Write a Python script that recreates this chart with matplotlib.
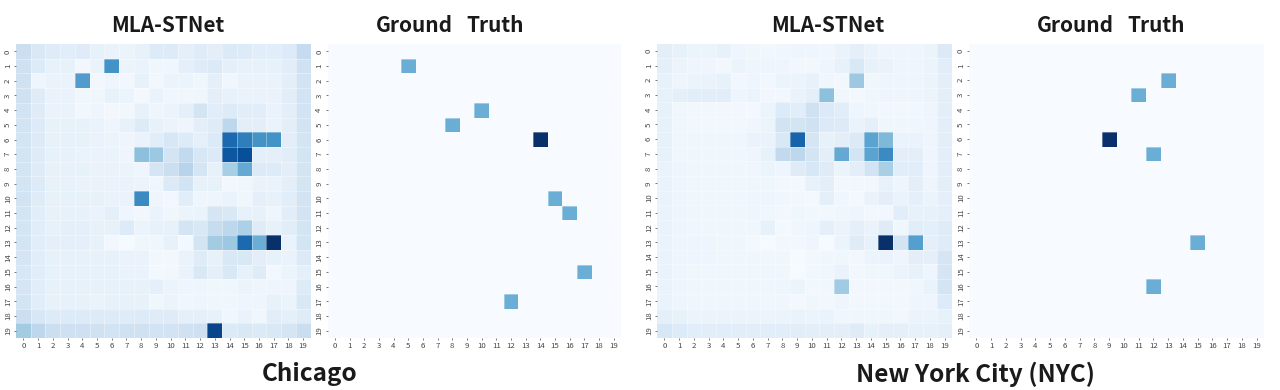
import numpy as np
import matplotlib
matplotlib.use('Agg')
import matplotlib.pyplot as plt
import seaborn as sns

plt.rcParams['font.family'] = ['Noto Sans CJK SC', 'DejaVu Sans']

W, H = 1280, 390

chicago_pred = [
    [22, 15, 12, 11, 12, 8, 7, 6, 8, 13, 13, 9, 12, 10, 14, 13, 11, 11, 13, 25],
    [20, 13, 8, 8, 3, 7, 62, 6, 7, 4, 4, 9, 12, 14, 9, 8, 8, 8, 11, 20],
    [20, 5, 7, 7, 58, 3, 5, 3, 8, 3, 6, 6, 4, 9, 4, 7, 7, 7, 10, 19],
    [20, 12, 7, 7, 4, 4, 8, 6, 2, 7, 4, 4, 4, 10, 8, 7, 7, 7, 11, 19],
    [19, 12, 7, 7, 3, 5, 3, 3, 8, 5, 6, 9, 18, 11, 13, 11, 11, 7, 10, 19],
    [19, 13, 8, 8, 8, 7, 5, 8, 13, 8, 6, 5, 10, 12, 28, 10, 10, 7, 10, 19],
    [18, 13, 8, 8, 8, 7, 6, 5, 7, 11, 16, 13, 9, 14, 78, 70, 62, 62, 10, 18],
    [18, 12, 8, 8, 7, 7, 7, 5, 42, 38, 18, 26, 16, 14, 85, 88, 9, 9, 11, 18],
    [18, 12, 8, 8, 8, 7, 7, 6, 5, 17, 22, 30, 17, 8, 35, 52, 14, 13, 10, 18],
    [18, 13, 8, 8, 7, 7, 7, 7, 6, 4, 14, 19, 8, 8, 3, 4, 7, 7, 10, 18],
    [19, 12, 8, 8, 8, 8, 7, 7, 65, 5, 3, 11, 5, 5, 7, 4, 9, 8, 11, 19],
    [18, 11, 8, 8, 8, 7, 9, 5, 3, 7, 4, 6, 7, 17, 15, 8, 8, 5, 11, 19],
    [18, 11, 8, 9, 9, 8, 8, 13, 6, 8, 8, 18, 15, 24, 28, 33, 12, 8, 11, 18],
    [18, 11, 9, 9, 9, 8, 3, 1, 4, 4, 8, 2, 18, 36, 38, 78, 50, 100, 7, 18],
    [17, 11, 8, 8, 8, 8, 8, 7, 7, 3, 3, 7, 12, 8, 15, 15, 10, 8, 7, 14],
    [16, 11, 8, 8, 8, 8, 8, 7, 7, 2, 3, 7, 15, 9, 15, 8, 12, 3, 6, 9],
    [17, 11, 8, 8, 8, 8, 8, 8, 8, 9, 6, 5, 5, 4, 4, 6, 5, 5, 5, 13],
    [18, 11, 8, 8, 8, 7, 8, 8, 8, 4, 6, 4, 5, 4, 4, 5, 5, 8, 6, 15],
    [22, 16, 13, 13, 13, 13, 13, 12, 13, 12, 12, 9, 9, 8, 4, 7, 4, 11, 9, 12],
    [36, 28, 22, 21, 21, 20, 19, 20, 20, 19, 19, 20, 21, 92, 14, 15, 14, 15, 17, 23],
]

nyc_pred = [
    [10, 8, 6, 6, 8, 5, 4, 3, 4, 5, 5, 4, 7, 9, 7, 5, 5, 5, 6, 14],
    [9, 6, 5, 5, 3, 6, 5, 5, 5, 3, 3, 5, 8, 15, 8, 7, 5, 5, 6, 11],
    [8, 5, 6, 7, 8, 3, 5, 3, 6, 6, 8, 4, 3, 38, 4, 5, 5, 5, 6, 10],
    [8, 9, 11, 11, 11, 5, 6, 3, 3, 7, 9, 42, 4, 2, 4, 5, 5, 5, 6, 10],
    [8, 4, 3, 3, 3, 3, 2, 6, 13, 11, 20, 14, 11, 5, 4, 3, 3, 3, 5, 10],
    [8, 4, 3, 3, 3, 3, 4, 6, 19, 18, 20, 14, 13, 7, 9, 4, 4, 4, 5, 10],
    [8, 4, 4, 4, 4, 4, 7, 7, 15, 80, 17, 8, 10, 14, 55, 45, 7, 7, 5, 10],
    [8, 4, 4, 4, 4, 4, 5, 8, 26, 28, 18, 10, 52, 18, 55, 65, 10, 10, 5, 10],
    [7, 5, 4, 4, 4, 4, 4, 6, 5, 12, 16, 12, 6, 10, 19, 34, 11, 11, 5, 10],
    [7, 5, 4, 4, 4, 4, 4, 4, 3, 2, 8, 10, 3, 3, 3, 8, 5, 10, 5, 10],
    [7, 5, 4, 4, 4, 4, 5, 5, 4, 3, 2, 9, 4, 2, 7, 10, 7, 9, 6, 9],
    [7, 5, 4, 4, 4, 4, 5, 4, 3, 4, 3, 3, 4, 5, 3, 3, 11, 8, 8, 9],
    [7, 5, 4, 4, 4, 4, 4, 8, 2, 4, 5, 9, 6, 9, 7, 12, 4, 11, 9, 12],
    [7, 5, 5, 5, 4, 4, 2, 1, 3, 3, 5, 1, 6, 12, 8, 100, 18, 57, 9, 12],
    [7, 5, 5, 5, 4, 4, 4, 4, 4, 1, 3, 4, 4, 3, 6, 7, 5, 10, 9, 17],
    [7, 5, 4, 4, 4, 4, 4, 4, 4, 1, 3, 4, 7, 3, 4, 4, 6, 8, 5, 17],
    [7, 5, 4, 4, 4, 4, 4, 4, 5, 6, 3, 3, 37, 3, 3, 3, 3, 4, 7, 18],
    [7, 5, 4, 4, 4, 4, 4, 4, 4, 2, 4, 3, 5, 3, 3, 3, 3, 5, 5, 13],
    [9, 8, 6, 6, 6, 6, 6, 6, 6, 7, 6, 7, 4, 4, 4, 4, 3, 6, 6, 8],
    [16, 13, 11, 11, 11, 11, 11, 11, 11, 11, 10, 10, 10, 12, 8, 9, 9, 8, 8, 9],
]

# ground truth: (row, col, value), everything else is 0
chicago_truth = [(1, 5, 50), (4, 10, 50), (5, 8, 50), (6, 14, 100),
                 (10, 15, 50), (11, 16, 50), (15, 17, 50), (17, 12, 50)]
nyc_truth = [(2, 13, 50), (3, 11, 50), (6, 9, 100), (7, 12, 50),
             (13, 15, 50), (16, 12, 50)]


def truth_grid(cells):
    grid = np.zeros((20, 20))
    for r, c, v in cells:
        grid[r, c] = v
    return grid


def draw(data, x0, x1, y0, y1):
    ax = fig.add_axes([x0 / W, 1 - y1 / H, (x1 - x0) / W, (y1 - y0) / H])
    sns.heatmap(np.array(data), ax=ax, cmap='Blues', vmin=0, vmax=100, cbar=False,
                linewidths=0, square=False, xticklabels=1, yticklabels=1)
    # faint cell borders, the reference only shows them as a soft haze
    ax.hlines(range(1, 20), 0, 20, color='white', lw=0.7, alpha=0.35)
    ax.vlines(range(1, 20), 0, 20, color='white', lw=0.7, alpha=0.35)
    ax.tick_params(labelsize=5.6, length=1.5, width=0.5, pad=1.5,
                   colors='#444444')
    plt.setp(ax.get_yticklabels(), rotation=90, va='center')
    plt.setp(ax.get_xticklabels(), rotation=0)
    return ax


def label(x, y, s, size):
    fig.text(x / W, 1 - y / H, s, ha='center', va='center', fontsize=size,
             weight='bold', color='#1a1a1a')


fig = plt.figure(figsize=(W / 100, H / 100), dpi=100)

draw(chicago_pred, 16, 310.5, 44, 338)
draw(truth_grid(chicago_truth), 327.5, 621, 44, 338)
draw(nyc_pred, 657, 952, 43.5, 338)
draw(truth_grid(nyc_truth), 969, 1264, 43.5, 338)

label(168, 25, 'MLA-STNet', 15)
label(414, 25, 'Ground', 15)
label(495, 25, 'Truth', 15)
label(828, 25, 'MLA-STNet', 15)
label(1075, 25, 'Ground', 15)
label(1156, 25, 'Truth', 15)
label(310, 374, 'Chicago', 17.5)
label(976, 374, 'New York City (NYC)', 17.5)

fig.savefig('out.png', dpi=100)
